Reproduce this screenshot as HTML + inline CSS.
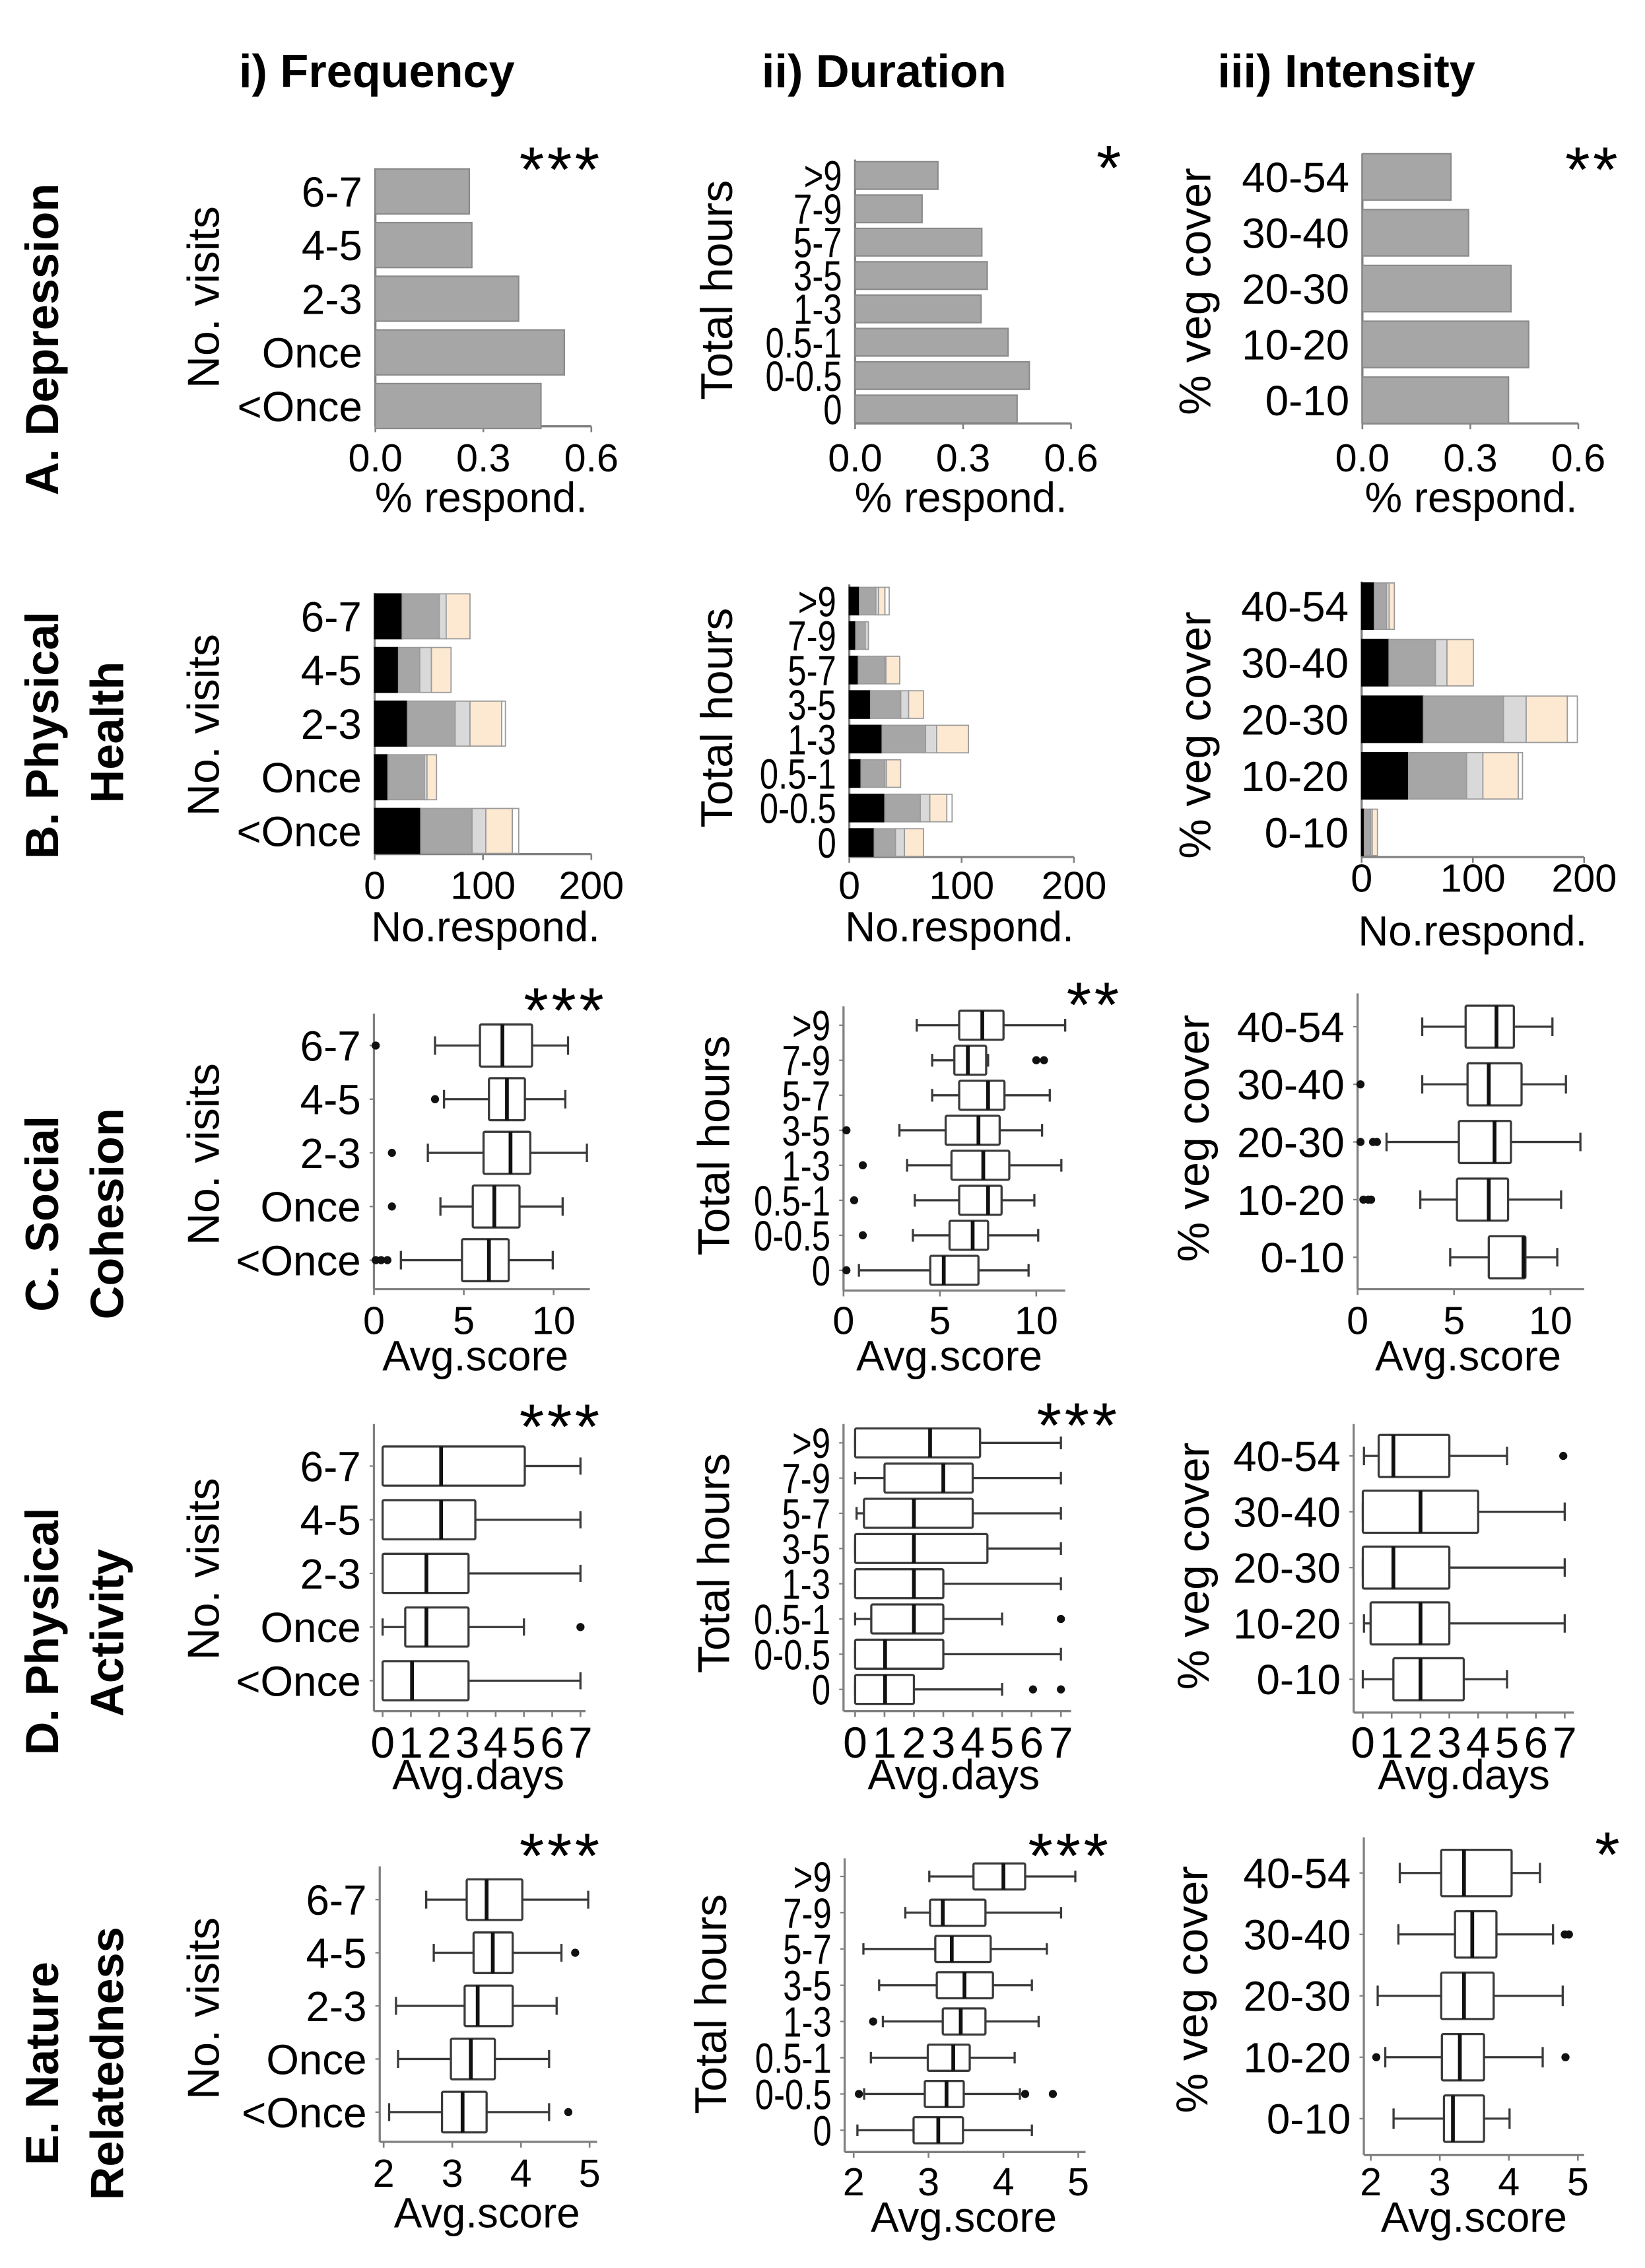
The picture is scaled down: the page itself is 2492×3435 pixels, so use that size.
<!DOCTYPE html>
<html>
<head>
<meta charset="utf-8">
<style>
html,body{margin:0;padding:0;background:#fff;}
svg{display:block;}
text{font-family:"Liberation Sans",Arial,sans-serif;fill:#000;}
.bold{font-weight:bold;}
</style>
</head>
<body>
<svg id="chart" xmlns="http://www.w3.org/2000/svg" width="2492" height="3435" viewBox="0 0 1135 1564" preserveAspectRatio="none">
  <rect x="0" y="0" width="1135" height="1564" fill="#fff"/>
  <text class="bold" x="260" y="60" font-size="32" text-anchor="middle">i) Frequency</text>
  <text class="bold" x="610" y="60" font-size="32" text-anchor="middle">ii) Duration</text>
  <text class="bold" x="929" y="60" font-size="32" text-anchor="middle">iii) Intensity</text>

  <text class="bold" transform="translate(40,234) rotate(-90)" font-size="32" text-anchor="middle">A. Depression</text>
  <text class="bold" transform="translate(40,507) rotate(-90)" font-size="32" text-anchor="middle">B. Physical</text>
  <text class="bold" transform="translate(85,505) rotate(-90)" font-size="32" text-anchor="middle">Health</text>
  <text class="bold" transform="translate(40,837) rotate(-90)" font-size="32" text-anchor="middle">C. Social</text>
  <text class="bold" transform="translate(85,837) rotate(-90)" font-size="32" text-anchor="middle">Cohesion</text>
  <text class="bold" transform="translate(40,1125) rotate(-90)" font-size="32" text-anchor="middle">D. Physical</text>
  <text class="bold" transform="translate(85,1126) rotate(-90)" font-size="32" text-anchor="middle">Activity</text>
  <text class="bold" transform="translate(40,1423) rotate(-90)" font-size="32" text-anchor="middle">E. Nature</text>
  <text class="bold" transform="translate(85,1423) rotate(-90)" font-size="32" text-anchor="middle">Relatedness</text>
</svg>
<script>
// ---------- categories ----------
const freqCats = ['6-7','4-5','2-3','Once','<Once'];
const durCats = ['>9','7-9','5-7','3-5','1-3','0.5-1','0-0.5','0'];
const vegCats = ['40-54','30-40','20-30','10-20','0-10'];

// ---------- tick values / labels ----------
const pctTicks = [0, 0.3, 0.6];
const pctTickLabels = ['0.0','0.3','0.6'];
const countTicks = [0, 100, 200];
const countTickLabels = ['0','100','200'];
const scoreTicks = [0, 5, 10];
const scoreTickLabels = ['0','5','10'];
const dayTicks = [0,1,2,3,4,5,6,7];
const dayTickLabels = ['0','1','2','3','4','5','6','7'];
const natTicks = [2,3,4,5];
const natTickLabels = ['2','3','4','5'];

// ---------- A. Depression (% respondents) ----------
const depFreq = [0.261, 0.268, 0.398, 0.525, 0.46];
const depDur = [0.23, 0.186, 0.352, 0.367, 0.35, 0.425, 0.484, 0.45];
const depVeg = [0.246, 0.295, 0.413, 0.462, 0.406];

// ---------- B. Physical health (stacked counts) ----------
const physFreqBlack = [25.4, 22, 30.3, 12.2, 42.5];
const physFreqGray  = [34.2, 19.6, 44, 33.7, 47.4];
const physFreqLight = [6.4, 10.8, 13.7, 2.4, 12.7];
const physFreqPeach = [22, 18.1, 29.3, 8.8, 24.5];
const physFreqWhite = [0, 0, 3.4, 0, 5.9];

const physDurBlack = [9, 5.7, 8, 18.9, 29.2, 10.4, 31.6, 22.2];
const physDurGray  = [14.6, 8.5, 23.6, 26.9, 38.7, 21.2, 31.6, 18.9];
const physDurLight = [2.4, 2.8, 1, 7, 9.9, 1.4, 8.5, 8];
const physDurPeach = [5.7, 0, 12.3, 13.2, 28.3, 12.7, 15.1, 17];
const physDurWhite = [3.8, 0, 0, 0, 0, 0, 4.7, 0];

const physVegBlack = [11.4, 24.6, 55.5, 42.2, 2.4];
const physVegGray  = [10.9, 41.7, 72, 52.1, 5.7];
const physVegLight = [2.4, 10.4, 20.4, 14.7, 1.4];
const physVegPeach = [4.7, 23.7, 37, 31.8, 4.7];
const physVegWhite = [0, 0, 9, 3.8, 0];

// ---------- C. Social cohesion: [lowWhisker, q1, median, q3, highWhisker] ----------
const socFreqBox = [[3.4,5.9,7.15,8.8,10.8],[3.9,6.4,7.4,8.4,10.65],[3.0,6.1,7.6,8.7,11.85],[3.7,5.5,6.7,8.1,10.5],[1.5,4.9,6.4,7.5,9.95]];
const socFreqOut = [[0.1],[3.4],[1.0],[1.0],[0.1,0.4,0.75]];
const socDurBox = [[3.8,6.0,7.2,8.3,11.5],[4.6,5.75,6.45,7.4,7.5],[4.6,6.0,7.5,8.35,10.7],[2.9,5.3,7.0,8.1,10.3],[3.3,5.6,7.25,8.6,11.3],[3.7,6.0,7.5,8.2,9.9],[3.6,5.5,6.7,7.5,10.1],[0.8,4.5,5.2,7.0,9.6]];
const socDurOut = [[],[10.0,10.4],[],[0.15],[1.0],[0.55],[1.0],[0.15]];
const socVegBox = [[3.35,5.6,7.2,8.1,10.1],[3.35,5.7,6.8,8.5,10.8],[1.5,5.25,7.1,7.95,11.55],[3.25,5.15,6.8,7.8,10.55],[4.8,6.8,8.6,8.7,10.35]];
const socVegOut = [[],[0.15],[0.15,0.8,1.0],[0.3,0.55,0.7],[]];

// ---------- D. Physical activity ----------
const actFreqBox = [[0,0,2.07,5.03,7],[0,0,2.07,3.28,7],[0,0,1.55,3.04,7],[0,0.8,1.55,3.04,5.0],[0,0,1.04,3.04,7]];
const actFreqOut = [[],[],[],[7],[]];
const actDurBox = [[0,0,2.55,4.25,7],[0,1.0,3.0,4.0,7],[0.05,0.3,2.0,4.0,7],[0,0,2.0,4.5,7],[0,0,2.0,3.0,7],[0,0.55,2.0,3.0,5.0],[0,0,1.02,3.0,7],[0,0,1.02,2.0,5.0]];
const actDurOut = [[],[],[],[],[],[7],[],[6.05,7]];
const actVegBox = [[0.04,0.55,1.06,3.0,5.0],[0,0,2.0,4.0,7],[0,0,1.06,3.0,7],[0.04,0.27,2.0,3.0,7],[0,1.06,2.0,3.5,5.0]];
const actVegOut = [[6.95],[],[],[],[]];

// ---------- E. Nature relatedness ----------
const natFreqBox = [[2.62,3.21,3.5,4.02,4.98],[2.73,3.31,3.59,3.88,4.59],[2.18,3.18,3.37,3.88,4.52],[2.21,2.98,3.27,3.62,4.41],[2.08,2.85,3.15,3.5,4.41]];
const natFreqOut = [[],[4.79],[],[],[4.69]];
const natDurBox = [[3.01,3.6,4.0,4.29,4.96],[2.69,3.02,3.19,3.76,4.77],[2.13,3.09,3.31,3.83,4.58],[2.34,3.11,3.48,3.86,4.38],[2.39,3.19,3.43,3.76,4.47],[2.23,2.99,3.33,3.55,4.15],[2.14,2.95,3.24,3.47,4.22],[2.05,2.8,3.13,3.46,4.38]];
const natDurOut = [[],[],[],[],[2.26],[],[2.07,4.29,4.66],[]];
const natVegBox = [[2.42,3.02,3.35,4.04,4.45],[2.4,3.22,3.47,3.82,4.64],[2.1,3.02,3.35,3.78,4.78],[2.21,3.03,3.29,3.64,4.49],[2.33,3.06,3.19,3.64,4.01]];
const natVegOut = [[],[4.81,4.87],[],[2.08,4.82],[]];

// ---------- rendering ----------
const NS = 'http://www.w3.org/2000/svg';
const svg = document.getElementById('chart');
function mk(tag, attrs, parent) {
  const el = document.createElementNS(NS, tag);
  for (const k in attrs) el.setAttribute(k, attrs[k]);
  (parent || svg).appendChild(el);
  return el;
}
const AX = '#808080';

function makePanel(cfg) {
  const g = mk('g', {});
  
  
  cfg.g = g;
  cfg.x = v => cfg.px0 + (v - cfg.v0) / (cfg.v1 - cfg.v0) * (cfg.px1 - cfg.px0);
  cfg.y = (i, n) => cfg.yTop + i * (cfg.yBot - cfg.yTop) / (n - 1);
  const ya = mk('line', {x1: cfg.axX, y1: cfg.top, x2: cfg.axX, y2: cfg.axY, stroke: AX, 'stroke-width': 1.5}, g);
  
  
  const xa = mk('line', {x1: cfg.axX, y1: cfg.axY, x2: cfg.right, y2: cfg.axY, stroke: AX, 'stroke-width': 1.5}, g);
  
  
  cfg.ticks.forEach((t, i) => {
    const tx = cfg.x(t);
    const tm = mk('line', {x1: tx, y1: cfg.axY, x2: tx, y2: cfg.axY + 4, stroke: AX, 'stroke-width': 1.2}, g);
    
    
    const tl = mk('text', {x: tx, y: cfg.tickY, 'font-size': cfg.tickFs || 27, 'text-anchor': 'middle'}, g);
    tl.textContent = cfg.tickLabels[i];
    
    
  });
  const xt = mk('text', {x: cfg.titleX, y: cfg.titleY, 'font-size': 29, 'text-anchor': 'middle'}, g);
  xt.textContent = cfg.xTitle;
  
  
  const yt = mk('text', {transform: 'translate(' + cfg.yTitleX + ',' + cfg.yTitleY + ') rotate(-90)', 'font-size': 31, 'text-anchor': 'middle'}, g);
  yt.textContent = cfg.yTitle;
  
  
  const n = cfg.cats.length;
  const sx = cfg.catScaleX || 1;
  cfg.cats.forEach((c, i) => {
    const cy = cfg.y(i, n);
    const cl = mk('text', {transform: 'translate(' + (cfg.axX - 9) + ',' + (cy + cfg.catFs * 0.36) + ') scale(' + sx + ',1)', 'font-size': cfg.catFs, 'text-anchor': 'end'}, g);
    cl.textContent = c;
    
    
    if (cfg.yTicks) {
      const ym = mk('line', {x1: cfg.axX - 3, y1: cy, x2: cfg.axX, y2: cy, stroke: AX, 'stroke-width': 1}, g);
      
      
    }
  });
  if (cfg.sig) {
    const s = mk('text', {x: cfg.sigX, y: cfg.sigY + 25, 'font-size': 44, 'text-anchor': 'middle', 'letter-spacing': 2}, g);
    s.textContent = cfg.sig;
    
    
  }
  return cfg;
}

function drawBars(cfg, vals) {
  const n = cfg.cats.length;
  vals.forEach((v, i) => {
    const cy = cfg.y(i, n);
    const r = mk('rect', {x: cfg.x(0), y: cy - cfg.bh / 2, width: cfg.x(v) - cfg.x(0), height: cfg.bh, fill: '#a6a6a6', stroke: '#8a8a8a', 'stroke-width': 1}, cfg.g);
    
    
  });
}

const segColors = ['#000000', '#a6a6a6', '#d9d9d9', '#fde9d2', '#ffffff'];
const segNames = ['black', 'gray', 'lightgray', 'peach', 'white'];
function drawStacked(cfg, series) {
  const n = cfg.cats.length;
  for (let i = 0; i < n; i++) {
    const cy = cfg.y(i, n);
    let acc = 0;
    series.forEach((arr, s) => {
      const v = arr[i];
      if (v <= 0) return;
      const r = mk('rect', {x: cfg.x(acc), y: cy - cfg.bh / 2, width: cfg.x(acc + v) - cfg.x(acc), height: cfg.bh, fill: segColors[s], stroke: s === 0 ? '#000' : '#9a9a9a', 'stroke-width': 0.8}, cfg.g);
      
      
      acc += v;
    });
  }
}

function drawBoxes(cfg, boxes, outs) {
  const n = cfg.cats.length;
  const BS = '#3a3a3a';
  boxes.forEach((b, i) => {
    const cy = cfg.y(i, n);
    const h = cfg.bh;
    const g = mk('g', {}, cfg.g);
    
    
    const w1 = mk('line', {x1: cfg.x(b[0]), y1: cy, x2: cfg.x(b[1]), y2: cy, stroke: BS, 'stroke-width': 1.5}, g);
    
    
    const w2 = mk('line', {x1: cfg.x(b[3]), y1: cy, x2: cfg.x(b[4]), y2: cy, stroke: BS, 'stroke-width': 1.5}, g);
    
    
    const c1 = mk('line', {x1: cfg.x(b[0]), y1: cy - h * 0.22, x2: cfg.x(b[0]), y2: cy + h * 0.22, stroke: BS, 'stroke-width': 1.5}, g);
    
    
    const c2 = mk('line', {x1: cfg.x(b[4]), y1: cy - h * 0.22, x2: cfg.x(b[4]), y2: cy + h * 0.22, stroke: BS, 'stroke-width': 1.5}, g);
    
    
    const r = mk('rect', {x: cfg.x(b[1]), y: cy - h / 2, width: Math.max(cfg.x(b[3]) - cfg.x(b[1]), 0.5), height: h, fill: '#fff', stroke: BS, 'stroke-width': 1.5, rx: 1}, g);
    
    
    const m = mk('line', {x1: cfg.x(b[2]), y1: cy - h / 2, x2: cfg.x(b[2]), y2: cy + h / 2, stroke: '#111', 'stroke-width': 2.6}, g);
    
    
    (outs[i] || []).forEach(o => {
      const p = mk('circle', {cx: cfg.x(o), cy: cy, r: 2.8, fill: '#111'}, g);
      
      
    });
  });
}

// ---------- Row A ----------
const A1 = makePanel({name:'panel-depression-frequency', cats:freqCats, v0:0, v1:0.6, px0:259, px1:408, axX:259, right:408, top:116, axY:294, yTop:132, yBot:280, ticks:pctTicks, tickLabels:pctTickLabels, tickY:325, xTitle:'% respond.', titleX:332, titleY:353, yTitle:'No. visits', yTitleX:151, yTitleY:205, catFs:29, sig:'***', sigX:387, sigY:107});
A1.bh = 31; drawBars(A1, depFreq);
const A2 = makePanel({name:'panel-depression-duration', cats:durCats, v0:0, v1:0.6, px0:590, px1:739, axX:590, right:739, top:110, axY:292, yTop:121, yBot:282, ticks:pctTicks, tickLabels:pctTickLabels, tickY:325, xTitle:'% respond.', titleX:663, titleY:353, yTitle:'Total hours', yTitleX:505, yTitleY:200, catFs:29, catScaleX:0.8, sig:'*', sigX:766, sigY:106});
A2.bh = 19; drawBars(A2, depDur);
const A3 = makePanel({name:'panel-depression-intensity', cats:vegCats, v0:0, v1:0.6, px0:940, px1:1089, axX:940, right:1089, top:106, axY:292, yTop:122, yBot:276, ticks:pctTicks, tickLabels:pctTickLabels, tickY:325, xTitle:'% respond.', titleX:1015, titleY:353, yTitle:'% veg cover', yTitleX:835, yTitleY:201, catFs:29, sig:'**', sigX:1099, sigY:107});
A3.bh = 32; drawBars(A3, depVeg);

// ---------- Row B ----------
const B1 = makePanel({name:'panel-physical-health-frequency', cats:freqCats, v0:0, v1:200, px0:258.5, px1:408, axX:258.5, right:408, top:409, axY:589, yTop:425, yBot:573, ticks:countTicks, tickLabels:countTickLabels, tickY:620, xTitle:'No.respond.', titleX:335, titleY:649, yTitle:'No. visits', yTitleX:151, yTitleY:500, catFs:29});
B1.bh = 31; drawStacked(B1, [physFreqBlack, physFreqGray, physFreqLight, physFreqPeach, physFreqWhite]);
const B2 = makePanel({name:'panel-physical-health-duration', cats:durCats, v0:0, v1:200, px0:586, px1:741, axX:586, right:741, top:403, axY:591, yTop:414.5, yBot:581, ticks:countTicks, tickLabels:countTickLabels, tickY:620, xTitle:'No.respond.', titleX:662, titleY:649, yTitle:'Total hours', yTitleX:505, yTitleY:495, catFs:29, catScaleX:0.8});
B2.bh = 19; drawStacked(B2, [physDurBlack, physDurGray, physDurLight, physDurPeach, physDurWhite]);
const B3 = makePanel({name:'panel-physical-health-intensity', cats:vegCats, v0:0, v1:200, px0:939.5, px1:1093, axX:939.5, right:1093, top:401, axY:591, yTop:418, yBot:574, ticks:countTicks, tickLabels:countTickLabels, tickY:615, xTitle:'No.respond.', titleX:1016, titleY:652, yTitle:'% veg cover', yTitleX:835, yTitleY:507, catFs:29});
B3.bh = 32; drawStacked(B3, [physVegBlack, physVegGray, physVegLight, physVegPeach, physVegWhite]);

// ---------- Row C ----------
const C1 = makePanel({name:'panel-social-cohesion-frequency', cats:freqCats, v0:0, v1:10, px0:258, px1:382, axX:258, right:407, top:699, axY:889, yTop:721, yBot:869, ticks:scoreTicks, tickLabels:scoreTickLabels, tickY:920, xTitle:'Avg.score', titleX:328, titleY:945, yTitle:'No. visits', yTitleX:151, yTitleY:796, catFs:29, sig:'***', sigX:390, sigY:687, yTicks:true});
C1.bh = 29; drawBoxes(C1, socFreqBox, socFreqOut);
const C2 = makePanel({name:'panel-social-cohesion-duration', cats:durCats, v0:0, v1:10, px0:582, px1:715, axX:582, right:735, top:694, axY:890, yTop:707, yBot:876, ticks:scoreTicks, tickLabels:scoreTickLabels, tickY:920, xTitle:'Avg.score', titleX:655, titleY:945, yTitle:'Total hours', yTitleX:503, yTitleY:790, catFs:29, catScaleX:0.8, sig:'**', sigX:755, sigY:683, yTicks:true});
C2.bh = 20; drawBoxes(C2, socDurBox, socDurOut);
const C3 = makePanel({name:'panel-social-cohesion-intensity', cats:vegCats, v0:0, v1:10, px0:936.7, px1:1069.8, axX:936.7, right:1093, top:685, axY:889, yTop:708, yBot:867, ticks:scoreTicks, tickLabels:scoreTickLabels, tickY:920, xTitle:'Avg.score', titleX:1013, titleY:945, yTitle:'% veg cover', yTitleX:834, yTitleY:785, catFs:29, yTicks:true});
C3.bh = 29; drawBoxes(C3, socVegBox, socVegOut);

// ---------- Row D ----------
const D1 = makePanel({name:'panel-physical-activity-frequency', cats:freqCats, v0:0, v1:7, px0:264, px1:400.5, axX:258, right:404, top:982, axY:1180, yTop:1011, yBot:1159, ticks:dayTicks, tickLabels:dayTickLabels, tickY:1212, tickFs:30, xTitle:'Avg.days', titleX:330, titleY:1234, yTitle:'No. visits', yTitleX:151, yTitleY:1082, catFs:29, sig:'***', sigX:387, sigY:974, yTicks:true});
D1.bh = 27; drawBoxes(D1, actFreqBox, actFreqOut);
const D2 = makePanel({name:'panel-physical-activity-duration', cats:durCats, v0:0, v1:7, px0:590, px1:732, axX:582, right:739, top:982, axY:1180, yTop:995, yBot:1165, ticks:dayTicks, tickLabels:dayTickLabels, tickY:1212, tickFs:30, xTitle:'Avg.days', titleX:658, titleY:1234, yTitle:'Total hours', yTitleX:503, yTitleY:1078, catFs:29, catScaleX:0.8, sig:'***', sigX:744, sigY:973, yTicks:true});
D2.bh = 20; drawBoxes(D2, actDurBox, actDurOut);
const D3 = makePanel({name:'panel-physical-activity-intensity', cats:vegCats, v0:0, v1:7, px0:940.3, px1:1079.6, axX:934, right:1086, top:982, axY:1181, yTop:1004, yBot:1158, ticks:dayTicks, tickLabels:dayTickLabels, tickY:1212, tickFs:30, xTitle:'Avg.days', titleX:1010, titleY:1234, yTitle:'% veg cover', yTitleX:834, yTitleY:1080, catFs:29, yTicks:true});
D3.bh = 29; drawBoxes(D3, actVegBox, actVegOut);

// ---------- Row E ----------
const E1 = makePanel({name:'panel-nature-relatedness-frequency', cats:freqCats, v0:2, v1:5, px0:264.7, px1:406.8, axX:262, right:412, top:1287, axY:1477, yTop:1310, yBot:1456.5, ticks:natTicks, tickLabels:natTickLabels, tickY:1508, xTitle:'Avg.score', titleX:336, titleY:1536, yTitle:'No. visits', yTitleX:151, yTitleY:1385, catFs:29, sig:'***', sigX:387, sigY:1270, yTicks:true});
E1.bh = 28; drawBoxes(E1, natFreqBox, natFreqOut);
const E2 = makePanel({name:'panel-nature-relatedness-duration', cats:durCats, v0:2, v1:5, px0:589, px1:744, axX:582.8, right:749, top:1281.5, axY:1484, yTop:1294, yBot:1469, ticks:natTicks, tickLabels:natTickLabels, tickY:1514, xTitle:'Avg.score', titleX:665, titleY:1539, yTitle:'Total hours', yTitleX:501, yTitleY:1382, catFs:29, catScaleX:0.8, sig:'***', sigX:738, sigY:1270, yTicks:true});
E2.bh = 18; drawBoxes(E2, natDurBox, natDurOut);
const E3 = makePanel({name:'panel-nature-relatedness-intensity', cats:vegCats, v0:2, v1:5, px0:945.8, px1:1088.7, axX:941, right:1093, top:1267, axY:1486, yTop:1291.6, yBot:1461, ticks:natTicks, tickLabels:natTickLabels, tickY:1514, xTitle:'Avg.score', titleX:1017, titleY:1539, yTitle:'% veg cover', yTitleX:833, yTitleY:1372, catFs:29, sig:'*', sigX:1110, sigY:1269, yTicks:true});
E3.bh = 32; drawBoxes(E3, natVegBox, natVegOut);
</script>
</body>
</html>
